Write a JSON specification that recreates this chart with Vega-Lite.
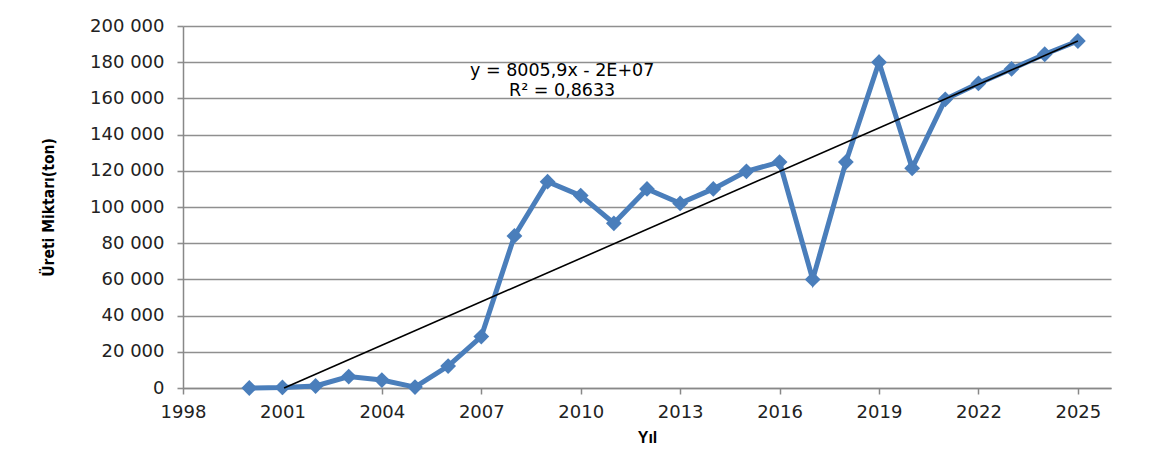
{
  "$schema": "https://vega.github.io/schema/vega-lite/v6.json",
  "width": 928,
  "height": 362,
  "autosize": {"type": "none"},
  "padding": {"left": 183, "top": 26, "right": 53, "bottom": 70},
  "background": "white",
  "config": {"view": {"stroke": null}, "font": "DejaVu Sans", "axis": {"labelOverlap": false}},
  "datasets": {
    "prod": [
      {"year": 2000, "value": 0},
      {"year": 2001, "value": 300},
      {"year": 2002, "value": 1100},
      {"year": 2003, "value": 6300},
      {"year": 2004, "value": 4400},
      {"year": 2005, "value": 500},
      {"year": 2006, "value": 12100},
      {"year": 2007, "value": 28400},
      {"year": 2008, "value": 84000},
      {"year": 2009, "value": 114000},
      {"year": 2010, "value": 106300},
      {"year": 2011, "value": 91000},
      {"year": 2012, "value": 110000},
      {"year": 2013, "value": 102000},
      {"year": 2014, "value": 110000},
      {"year": 2015, "value": 119700},
      {"year": 2016, "value": 124800},
      {"year": 2017, "value": 60000},
      {"year": 2018, "value": 124800},
      {"year": 2019, "value": 180000},
      {"year": 2020, "value": 121400},
      {"year": 2021, "value": 159500},
      {"year": 2022, "value": 168300},
      {"year": 2023, "value": 176300},
      {"year": 2024, "value": 184400},
      {"year": 2025, "value": 191700}
    ],
    "trend": [
      {"year": 2001.05, "value": 0},
      {"year": 2025, "value": 191700}
    ],
    "eq": [
      {"line": "y = 8005,9x - 2E+07", "year": 2009.44, "value": 175100},
      {"line": "R² = 0,8633", "year": 2009.44, "value": 164300}
    ]
  },
  "encoding": {
    "x": {
      "field": "year", "type": "quantitative",
      "scale": {"domain": [1998, 2026], "nice": false, "zero": false},
      "axis": {
        "values": [1998, 2001, 2004, 2007, 2010, 2013, 2016, 2019, 2022, 2025],
        "format": "d",
        "grid": false,
        "title": "Yıl",
        "titleFont": "Liberation Sans",
        "titleFontSize": 16,
        "titleFontWeight": "bold",
        "titleColor": "#000",
        "titlePadding": 8,
        "labelFontSize": 18,
        "labelColor": "#222",
        "labelPadding": 9,
        "labelFlush": false,
        "labelOverlap": false,
        "tickSize": 6,
        "tickColor": "#888",
        "tickWidth": 1.5,
        "domainColor": "#888",
        "domainWidth": 1.5
      }
    },
    "y": {
      "field": "value", "type": "quantitative",
      "scale": {"domain": [0, 200000], "nice": false},
      "axis": {
        "values": [0, 20000, 40000, 60000, 80000, 100000, 120000, 140000, 160000, 180000, 200000],
        "labelExpr": "join(split(format(datum.value, ','), ','), ' ')",
        "labelOverlap": false,
        "grid": true,
        "gridColor": "#8f8f8f",
        "gridWidth": 1.6,
        "title": "Üreti Miktarı(ton)",
        "titleFont": "DejaVu Sans Condensed, Liberation Sans, sans-serif",
        "titleFontSize": 15.5,
        "titleFontWeight": "bold",
        "titleColor": "#000",
        "titlePadding": 33,
        "labelFontSize": 18,
        "labelColor": "#222",
        "labelPadding": 13,
        "tickSize": 6,
        "tickColor": "#8f8f8f",
        "tickWidth": 1.6,
        "domainColor": "#888",
        "domainWidth": 1.5
      }
    }
  },
  "layer": [
    {
      "data": {"name": "prod"},
      "mark": {"type": "line", "color": "#4a7ebb", "strokeWidth": 5}
    },
    {
      "data": {"name": "prod"},
      "mark": {"type": "point", "shape": "diamond", "filled": true, "opacity": 1, "color": "#4a7ebb", "size": 250}
    },
    {
      "data": {"name": "trend"},
      "mark": {"type": "line", "color": "#000", "strokeWidth": 1.6}
    },
    {
      "data": {"name": "eq"},
      "mark": {"type": "text", "fontSize": 17.5, "color": "#000", "align": "center", "baseline": "middle"},
      "encoding": {
        "text": {"field": "line"}
      }
    }
  ]
}
